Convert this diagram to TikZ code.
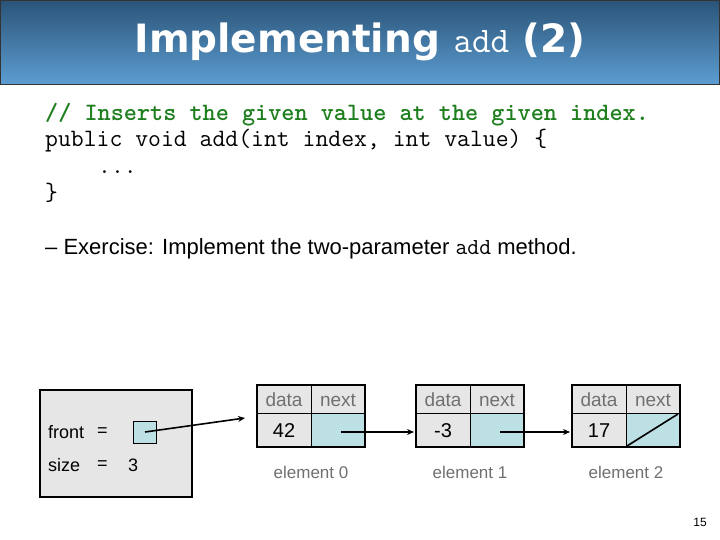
\documentclass[tikz,border=0pt]{standalone}
\usepackage{fontspec}
\setmainfont{DejaVu Sans}
\newfontfamily\lsans{Liberation Sans}
\usetikzlibrary{arrows.meta}
\definecolor{cellgray}{HTML}{E6E6E6}
\definecolor{cellblue}{HTML}{BDE0E4}
\definecolor{lblgray}{HTML}{707070}
\definecolor{cmtgreen}{HTML}{1F7F1F}
\definecolor{tbar1}{HTML}{2A5478}
\definecolor{tbar2}{HTML}{5D9DD2}
\begin{document}
\begin{tikzpicture}[x=1pt,y=-1pt,
  code/.style={anchor=west,inner sep=0,font=\ttfamily\fontsize{25}{26}\selectfont},
  lbl/.style={text=lblgray,font=\lsans\fontsize{19}{20}\selectfont},
  val/.style={font=\lsans\fontsize{20}{22}\selectfont},
  ptr/.style={line width=1.6pt,-{Stealth[length=7pt,width=6pt]}},
  edge/.style={line width=2pt}]
\useasboundingbox (0,0) rectangle (720,540);
\fill[white] (0,0) rectangle (720,540);
% title bar
\shade[top color=tbar1,bottom color=tbar2] (0,0) rectangle (720,85);
\draw[line width=1.2pt,black!80] (0.6,0.6) rectangle (719.4,84.4);
\node[text=white,font=\bfseries\fontsize{39}{42}\selectfont] (title) at (360,42)
  {Implementing {\mdseries\ttfamily\fontsize{36}{38}\selectfont add} (2)};
% code
\node[code,text=cmtgreen,font=\ttfamily\bfseries\fontsize{25}{26}\selectfont] (c1) at (45,115) {// Inserts the given value at the given index.};
\node[code] (c2) at (45,141) {public void add(int index, int value) \{};
\node[code] (c3) at (98,172) {...};
\node[code] (c4) at (45,193) {\}};
\node[anchor=west,inner sep=0,font=\lsans\fontsize{22}{24}\selectfont] (ex) at (45,249)
  {– Exercise: Implement the two-parameter {\ttfamily\fontsize{23}{24}\selectfont add} method.};
% list object
\draw[edge,fill=cellgray] (40,390) rectangle (192,497);
\node[anchor=west,inner sep=0,font=\lsans\fontsize{18}{20}\selectfont] (fr) at (48,432) {front};
\node[anchor=west,inner sep=0,font=\lsans\fontsize{18}{20}\selectfont] (fe) at (97,432) {=};
\node[anchor=west,inner sep=0,font=\lsans\fontsize{18}{20}\selectfont] (sz) at (48,465) {size};
\node[anchor=west,inner sep=0,font=\lsans\fontsize{18}{20}\selectfont] (se) at (97,465) {=};
\node[anchor=west,inner sep=0,font=\lsans\fontsize{18}{20}\selectfont] (sv) at (128,465) {3};
\draw[fill=cellblue,line width=0.6pt] (133,421) rectangle (156,443);
\coordinate (fs) at (145,432);
% nodes
\foreach \n/\x/\v in {0/257/42,1/416/-3,2/572/17}{
  \fill[cellgray] (\x,385) rectangle ++(108,62);
  \fill[cellblue] ({\x+54},413) rectangle ++(54,34);
  \draw[line width=1pt] (\x,413) -- ++(108,0) ({\x+54},385) -- ++(0,62);
  \draw[edge] (\x,385) rectangle ++(108,62);
  \node[lbl] (d\n) at ({\x+27},400) {data};
  \node[lbl] (nx\n) at ({\x+81},400) {next};
  \node[val] (v\n) at ({\x+27},431) {\v};
  \node[lbl,font=\lsans\fontsize{17}{20}\selectfont] (e\n) at ({\x+54},472) {element \n};
  \coordinate (in\n) at ({\x-2},432);
  \coordinate (out\n) at ({\x+84},432);
}
\coordinate (tip0) at (245,418);
\draw[ptr] (fs) -- (tip0);
\draw[ptr] (out0) -- (in1);
\draw[ptr] (out1) -- (in2);
\draw[line width=1.6pt] (627,446) -- (678,414);
\node[font=\lsans\fontsize{12}{14}\selectfont] (pg) at (700,522) {15};
\end{tikzpicture}
\end{document}
